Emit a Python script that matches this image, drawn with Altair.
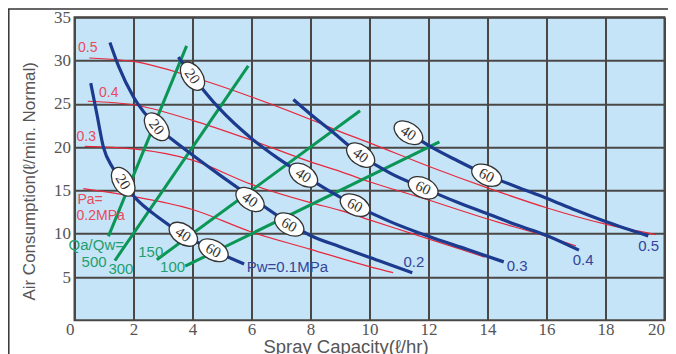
import altair as alt
import pandas as pd

# ---------------- data ----------------
# Blue curves: water pressure Pw (MPa)
pw_names = ["0.1", "0.2", "0.3", "0.4", "0.5"]
pw_x = [
    [0.55, 0.76, 0.98, 1.3, 1.65, 2.1, 2.8, 3.7, 4.7, 5.75],
    [1.2, 1.5, 2.0, 2.8, 3.3, 4.0, 5.0, 5.95, 7.28, 8.0, 9.0, 10.3, 11.45],
    [3.52, 4.0, 4.9, 6.0, 6.9, 7.76, 8.66, 9.51, 10.7, 12.0, 13.3, 14.55],
    [7.42, 8.0, 8.66, 9.7, 10.7, 11.82, 13.0, 14.0, 15.0, 16.0, 17.1],
    [11.2, 12.0, 13.0, 13.97, 15.0, 16.0, 17.0, 18.0, 19.45],
]
pw_y = [
    [27.4, 23.8, 20.0, 17.6, 15.9, 14.0, 12.0, 9.9, 8.1, 6.5],
    [32.1, 29.3, 25.8, 22.35, 20.9, 19.1, 16.6, 14.3, 11.2, 9.8, 8.5, 6.9, 5.5],
    [30.4, 28.2, 24.5, 21.0, 18.7, 16.8, 14.9, 13.3, 11.4, 9.7, 8.2, 6.75],
    [25.5, 23.8, 22.0, 19.1, 17.0, 15.3, 13.6, 12.3, 11.0, 9.8, 8.1],
    [22.0, 20.2, 18.4, 16.8, 15.4, 14.1, 12.7, 11.4, 9.75],
]

# Red curves: air pressure Pa (MPa)
pa_names = ["0.2", "0.3", "0.4", "0.5"]
pa_x = [
    [0.3, 2, 4, 6, 8, 10, 10.8],
    [0.35, 2, 4, 6, 8, 9, 10, 12, 13.9],
    [0.45, 2, 4, 6, 8, 9, 10, 12, 14, 16, 17.0],
    [0.5, 2, 4, 6, 8, 9, 10, 12, 14, 16, 18, 19.7],
]
pa_y = [
    [15.2, 14.3, 12.8, 10.2, 8.2, 6.2, 5.5],
    [20.1, 19.8, 18.5, 15.7, 13.6, 12.7, 11.6, 9.4, 7.3],
    [25.3, 24.9, 23.1, 20.8, 18.3, 17.2, 16.0, 13.9, 11.7, 9.7, 8.6],
    [30.3, 29.9, 28.1, 25.8, 23.2, 21.8, 20.5, 17.8, 15.3, 13.0, 11.1, 9.9],
]

# Green lines: Qa/Qw ratio
ratio_names = ["500", "300", "150", "100"]
ratio_x = [[1.15, 3.8], [1.37, 5.89], [2.79, 9.68], [3.75, 12.37]]
ratio_y = [[9.7, 31.7], [6.9, 29.4], [7.0, 24.2], [6.25, 20.6]]

# Oval markers on the blue curves
mark_text_vals = ["20", "40", "60", "20", "40", "60", "20", "40", "60", "40", "60", "40", "60"]
mark_x = [1.65, 3.69, 4.71, 2.79, 5.95, 7.28, 4.0, 7.76, 9.51, 9.70, 11.82, 11.32, 13.97]
mark_y = [16.0, 9.94, 8.09, 22.35, 13.95, 11.06, 28.2, 16.76, 13.3, 19.08, 15.3, 21.66, 16.76]
mark_angle = [58, 34, 28, 52, 35, 30, 55, 34, 27, 36, 26, 33, 25]

# Curve-end labels
red_lab = ["0.5", "0.4", "0.3", "Pa=", "0.2MPa"]
red_lab_x = [0.12, 0.83, 0.07, 0.1, 0.07]
red_lab_y = [31.5, 26.2, 21.2, 13.9, 12.0]
blue_lab = ["Pw=0.1MPa", "0.2", "0.3", "0.4", "0.5"]
blue_lab_x = [5.84, 11.15, 14.65, 16.89, 19.11]
blue_lab_y = [6.17, 6.74, 6.28, 6.94, 8.6]
green_lab = ["Qa/Qw=", "500", "300", "150", "100"]
green_lab_x = [-0.2, 0.24, 1.15, 2.16, 2.9]
green_lab_y = [8.67, 6.74, 5.97, 7.9, 6.17]

x_ticks = [0, 2, 4, 6, 8, 10, 12, 14, 16, 18, 20]
y_ticks = [5, 10, 15, 20, 25, 30, 35]

# ---------------- tables ----------------
def long_table(names, xs, ys):
    rows = []
    for n, xx, yy in zip(names, xs, ys):
        for i, (a, b) in enumerate(zip(xx, yy)):
            rows.append({"series": n, "i": i, "x": a, "y": b})
    return pd.DataFrame(rows)

blue_df = long_table(pw_names, pw_x, pw_y)
red_df = long_table(pa_names, pa_x, pa_y)
green_df = long_table(ratio_names, ratio_x, ratio_y)
marks_df = pd.DataFrame({"t": mark_text_vals, "x": mark_x, "y": mark_y, "a": mark_angle})
red_lab_df = pd.DataFrame({"t": red_lab, "x": red_lab_x, "y": red_lab_y})
blue_lab_df = pd.DataFrame({"t": blue_lab, "x": blue_lab_x, "y": blue_lab_y})
green_lab_df = pd.DataFrame({"t": green_lab, "x": green_lab_x, "y": green_lab_y})
one = pd.DataFrame({"k": [0]})

NARROW = "Liberation Sans Narrow"
SANS = "Liberation Sans"
GRID = "#4a4846"

xs = alt.Scale(domain=[0, 20], nice=False)
ys = alt.Scale(domain=[0, 35], nice=False)

x_axis = alt.Axis(
    values=x_ticks, grid=True, gridColor=GRID, gridWidth=2, domain=False,
    ticks=False, tickSize=0, labelFont=NARROW, labelFontSize=17, labelColor="#555",
    labelPadding=1, title=None,
    labelOffset={"condition": {"test": "datum.value === 0", "value": -9}, "value": 0},
)
y_axis = alt.Axis(
    values=y_ticks, grid=True, gridColor=GRID, gridWidth=2, domain=False,
    ticks=False, tickSize=0, labelFont=NARROW, labelFontSize=17, labelColor="#555",
    labelPadding=4, title=None,
)

red = alt.Chart(red_df).mark_line(color="#e8283c", strokeWidth=1.2, interpolate="monotone").encode(
    x=alt.X("x:Q", scale=xs, axis=x_axis),
    y=alt.Y("y:Q", scale=ys, axis=y_axis),
    detail="series:N", order="i:Q",
)
green = alt.Chart(green_df).mark_line(color="#0b9656", strokeWidth=3).encode(
    x=alt.X("x:Q", scale=xs), y=alt.Y("y:Q", scale=ys), detail="series:N", order="i:Q",
)
blue = alt.Chart(blue_df).mark_line(color="#1c3a8e", strokeWidth=3.2, interpolate="monotone").encode(
    x=alt.X("x:Q", scale=xs), y=alt.Y("y:Q", scale=ys), detail="series:N", order="i:Q",
)
oval_path = "M -1 0 A 1 0.62 0 1 1 1 0 A 1 0.62 0 1 1 -1 0 Z"
ovals = alt.Chart(marks_df).mark_point(
    shape=oval_path, size=1000, filled=True, fill="white", stroke="#333",
    strokeWidth=1.3, opacity=1,
).encode(
    x=alt.X("x:Q", scale=xs), y=alt.Y("y:Q", scale=ys), angle=alt.Angle("a:Q", scale=None),
)
oval_txt = alt.Chart(marks_df).mark_text(font=NARROW, fontSize=15, color="#333", baseline="middle").encode(
    x=alt.X("x:Q", scale=xs), y=alt.Y("y:Q", scale=ys), angle=alt.Angle("a:Q", scale=None), text="t:N",
)

def labels(df, color, size):
    return alt.Chart(df).mark_text(font=SANS, fontSize=size, color=color, align="left", baseline="middle").encode(
        x=alt.X("x:Q", scale=xs), y=alt.Y("y:Q", scale=ys), text="t:N",
    )

red_t = labels(red_lab_df, "#e84a5f", 14)
blue_t = labels(blue_lab_df, "#34449a", 15)
green_t = labels(green_lab_df, "#1f9e6e", 15)

y_title = alt.Chart(one).mark_text(
    text="Air Consumption(ℓ/min. Normal)", font=SANS, fontSize=17, color="#555",
    angle=270, align="center", baseline="middle",
).encode(x=alt.value(-44.5), y=alt.value(164))
x_title = alt.Chart(one).mark_text(
    text="Spray Capacity(ℓ/hr)", font=SANS, fontSize=18.5, color="#555",
    align="center", baseline="alphabetic",
).encode(x=alt.value(271.5), y=alt.value(335.5))

frame_top = alt.Chart(one).mark_rule(color="#333", strokeWidth=1.5).encode(
    x=alt.value(-66.5), x2=alt.value(594), y=alt.value(-8.3))
frame_left = alt.Chart(one).mark_rule(color="#333", strokeWidth=1.5).encode(
    x=alt.value(-65.7), y=alt.value(-8.3), y2=alt.value(400))

chart = alt.layer(
    red, green, blue, ovals, oval_txt, red_t, blue_t, green_t, y_title, x_title, frame_top, frame_left
).properties(
    width=590, height=303,
    autosize=alt.AutoSizeParams(type="none"),
    padding={"left": 66.5, "top": 9.3, "right": 3, "bottom": 36},
).configure_view(
    stroke=GRID, strokeWidth=2, fill="#c5e4f7",
)

chart.save("out.html", embed_options={"renderer": "svg", "actions": False})
